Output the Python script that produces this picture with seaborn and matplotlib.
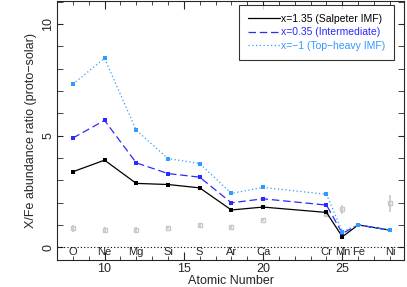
import numpy as np
import pandas as pd
from matplotlib import pyplot as plt
import seaborn as sn

# atomic numbers and element names
z_values = [8, 10, 12, 14, 16, 18, 20, 24, 25, 26, 28]
elements = ["O", "Ne", "Mg", "Si", "S", "Ar", "Ca", "Cr", "Mn", "Fe", "Ni"]

# model X/Fe ratios for the three IMF slopes
salpeter = [3.38, 3.90, 2.86, 2.81, 2.66, 1.67, 1.80, 1.56, 0.47, 1.00, 0.77]
intermediate = [4.89, 5.68, 3.78, 3.30, 3.14, 1.99, 2.17, 1.89, 0.62, 1.00, 0.77]
top_heavy = [7.30, 8.46, 5.24, 3.97, 3.75, 2.41, 2.68, 2.37, 0.70, 1.00, 0.77]

# observed ratios (gray points)
obs_z = [8, 10, 12, 14, 16, 18, 20, 24, 25, 28]
obs_val = [0.85, 0.77, 0.77, 0.88, 1.00, 0.89, 1.22, 1.48, 1.71, 1.96]
obs_err = [0.15, 0.15, 0.15, 0.05, 0.08, 0.12, 0.06, 0.10, 0.20, 0.40]

series_names = ["x=1.35 (Salpeter IMF)", "x=0.35 (Intermediate)", "x=\u22121 (Top\u2212heavy IMF)"]
series_colors = ["black", "#2a2aff", "#2f9bff"]
line_styles = ['-', (0, (6, 3)), (0, (1, 2))]

sn.set_style("ticks")
plt.rcParams['font.family'] = ['Liberation Sans', 'DejaVu Sans']

rows = []
for name, vals in zip(series_names, [salpeter, intermediate, top_heavy]):
    for z, v in zip(z_values, vals):
        rows.append({"Z": z, "ratio": v, "model": name})
df = pd.DataFrame(rows)

fig = plt.figure(figsize=(4.07, 2.87), dpi=100)
ax = fig.add_axes([0.14, 0.094, 0.853, 0.903])

ax.errorbar(obs_z, obs_val, yerr=obs_err, fmt='s', ms=2.5, mfc='none', mec='#c8c8c8',
            ecolor='#c8c8c8', elinewidth=1.2, capsize=0, zorder=1)

sn.lineplot(data=df, x="Z", y="ratio", hue="model", style="model", palette=series_colors,
            dashes=[(None, None), (6, 3), (1, 2)], markers=["s", "s", "s"], markersize=2.2,
            markeredgewidth=0, linewidth=0.9, ax=ax, zorder=3)
for line, dash in zip(ax.get_lines()[-3:], line_styles):
    line.set_linestyle(dash)

ax.axhline(0, color='black', linestyle=(0, (1, 2)), linewidth=0.8, zorder=2)

for z, el in zip(z_values, elements):
    ax.text(z, -0.22, el, ha='center', va='center', fontsize=8)

ax.set_xlim(7.0, 28.9)
ax.set_ylim(-0.57, 11.03)
ax.set_xticks([10, 15, 20, 25])
ax.set_xticks(np.arange(7, 29), minor=True)
ax.set_yticks([0, 5, 10])
ax.set_yticks(np.arange(0, 12), minor=True)
ax.tick_params(which='both', direction='in', top=True, right=True, labelsize=9, pad=2)
ax.tick_params(which='major', axis='x', length=6)
ax.tick_params(which='minor', axis='x', length=3)
ax.tick_params(which='both', axis='y', length=4)
for lab in ax.get_yticklabels():
    lab.set_rotation(90)
    lab.set_va('center')
ax.set_xlabel("Atomic Number", fontsize=9, labelpad=0)
ax.set_ylabel("X/Fe abundance ratio (proto\u2212solar)", fontsize=9, labelpad=4)

leg = ax.legend(loc='upper right', fontsize=7.5, frameon=True, fancybox=False, edgecolor='black',
                handlelength=3.1, borderpad=0.85, labelspacing=0.35, handletextpad=0.05,
                borderaxespad=0, bbox_to_anchor=(0.971, 0.985))
leg.get_frame().set_linewidth(0.8)
for text, col in zip(leg.get_texts(), series_colors):
    text.set_color(col)
for handle, dash in zip(leg.get_lines(), line_styles):
    handle.set_linestyle(dash)
    handle.set_marker('')

fig.savefig("out.png", dpi=100)
